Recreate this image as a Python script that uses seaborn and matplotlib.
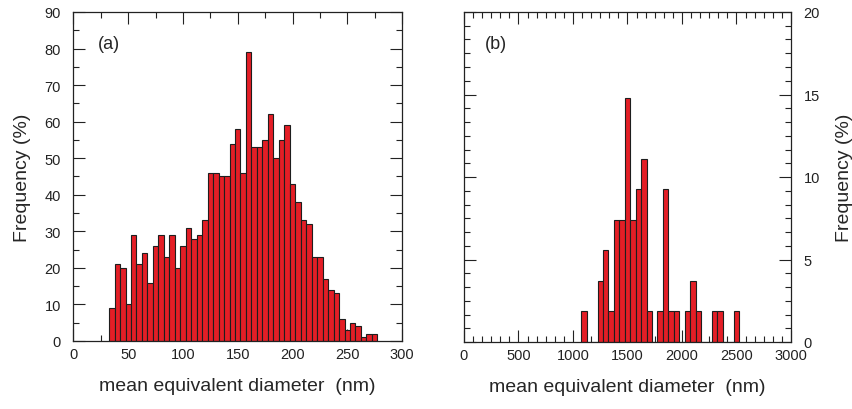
import numpy as np
import matplotlib
matplotlib.use("Agg")
import matplotlib.pyplot as plt
from matplotlib.ticker import MultipleLocator
import seaborn as sns

# ---- data ----
# panel (a): bin centres (nm) and frequency (%)
diam_a = [35, 40, 45, 50, 55, 60, 65, 70, 75, 80, 85, 90, 95, 100, 105, 110, 115,
          120, 125, 130, 135, 140, 145, 150, 155, 160, 165, 170, 175, 180, 185,
          190, 195, 200, 205, 210, 215, 220, 225, 230, 235, 240, 245, 250, 255,
          260, 265, 270, 275]
freq_a = [9, 21, 20, 10, 29, 21, 24, 16, 26, 29, 23, 29, 20, 26, 31, 28, 29,
          33, 46, 46, 45, 45, 54, 58, 46, 79, 53, 53, 55, 62, 50,
          55, 59, 43, 38, 33, 32, 23, 23, 17, 14, 13, 6, 3, 5,
          4, 1, 2, 2]

# panel (b): bin centres (nm) and frequency (%)
diam_b = [1100, 1250, 1300, 1350, 1400, 1450, 1500, 1550, 1600, 1650, 1700,
          1800, 1850, 1900, 1950, 2050, 2100, 2150, 2300, 2350, 2500]
freq_b = [1.85, 3.70, 5.56, 1.85, 7.41, 7.41, 14.81, 7.41, 9.26, 11.11, 1.85,
          1.85, 9.26, 1.85, 1.85, 1.85, 3.70, 1.85, 1.85, 1.85, 1.85]

xlabel = "mean equivalent diameter  (nm)"
ylabel = "Frequency (%)"

# ---- style ----
sns.set_style("white")
plt.rcParams["font.family"] = ["Liberation Sans", "DejaVu Sans"]
plt.rcParams["axes.linewidth"] = 0.9
plt.rcParams["axes.edgecolor"] = "#222222"

bar_color = "#E41E26"
edge_color = "#1e1e1e"

fig = plt.figure(figsize=(8.53, 4.10), dpi=100)
ax_a = fig.add_axes([73.5 / 853, 68 / 410, 328.5 / 853, 329 / 410])
ax_b = fig.add_axes([464 / 853, 67 / 410, 327 / 853, 330 / 410])

sns.histplot(x=diam_a, weights=freq_a, binwidth=5, binrange=(32.5, 277.5),
             color=bar_color, edgecolor=edge_color, linewidth=0.8, alpha=1,
             ax=ax_a)
sns.histplot(x=diam_b, weights=freq_b, binwidth=50, binrange=(1075, 2525),
             color=bar_color, edgecolor=edge_color, linewidth=0.8, alpha=1,
             ax=ax_b)

tick_kw = dict(which="both", direction="in", top=True, bottom=True,
               left=True, right=True, width=0.8, colors="#222222",
               labelsize=10.5)

# panel a
ax_a.set_xlim(0, 300)
ax_a.set_ylim(0, 90)
ax_a.xaxis.set_major_locator(MultipleLocator(50))
ax_a.xaxis.set_minor_locator(MultipleLocator(25))
ax_a.yaxis.set_major_locator(MultipleLocator(10))
ax_a.yaxis.set_minor_locator(MultipleLocator(5))
ax_a.tick_params(**tick_kw)
ax_a.tick_params(which="major", length=8.5)
ax_a.tick_params(which="minor", length=4.5)
ax_a.tick_params(axis="x", pad=4)
ax_a.tick_params(axis="y", pad=9)
ax_a.set_xlabel(xlabel, fontsize=14, labelpad=12)
ax_a.set_ylabel(ylabel, fontsize=14, labelpad=10)
ax_a.text(0.075, 0.905, "(a)", transform=ax_a.transAxes, fontsize=13,
          va="center", ha="left")

# panel b
ax_b.set_xlim(0, 3000)
ax_b.set_ylim(0, 20)
ax_b.xaxis.set_major_locator(MultipleLocator(500))
ax_b.xaxis.set_minor_locator(MultipleLocator(500 / 6))
ax_b.yaxis.set_major_locator(MultipleLocator(5))
ax_b.yaxis.set_minor_locator(MultipleLocator(5 / 6))
ax_b.tick_params(**tick_kw)
ax_b.tick_params(which="major", length=8.5)
ax_b.tick_params(which="minor", length=4.5)
ax_b.tick_params(axis="x", pad=4)
ax_b.tick_params(axis="y", pad=9, labelleft=False, labelright=True)
ax_b.yaxis.set_label_position("right")
ax_b.set_xlabel(xlabel, fontsize=14, labelpad=12)
ax_b.set_ylabel(ylabel, fontsize=14, labelpad=11.5)
ax_b.text(0.064, 0.905, "(b)", transform=ax_b.transAxes, fontsize=13,
          va="center", ha="left")

for ax in (ax_a, ax_b):
    for s in ax.spines.values():
        s.set_visible(True)

fig.savefig("out.png", dpi=100)
